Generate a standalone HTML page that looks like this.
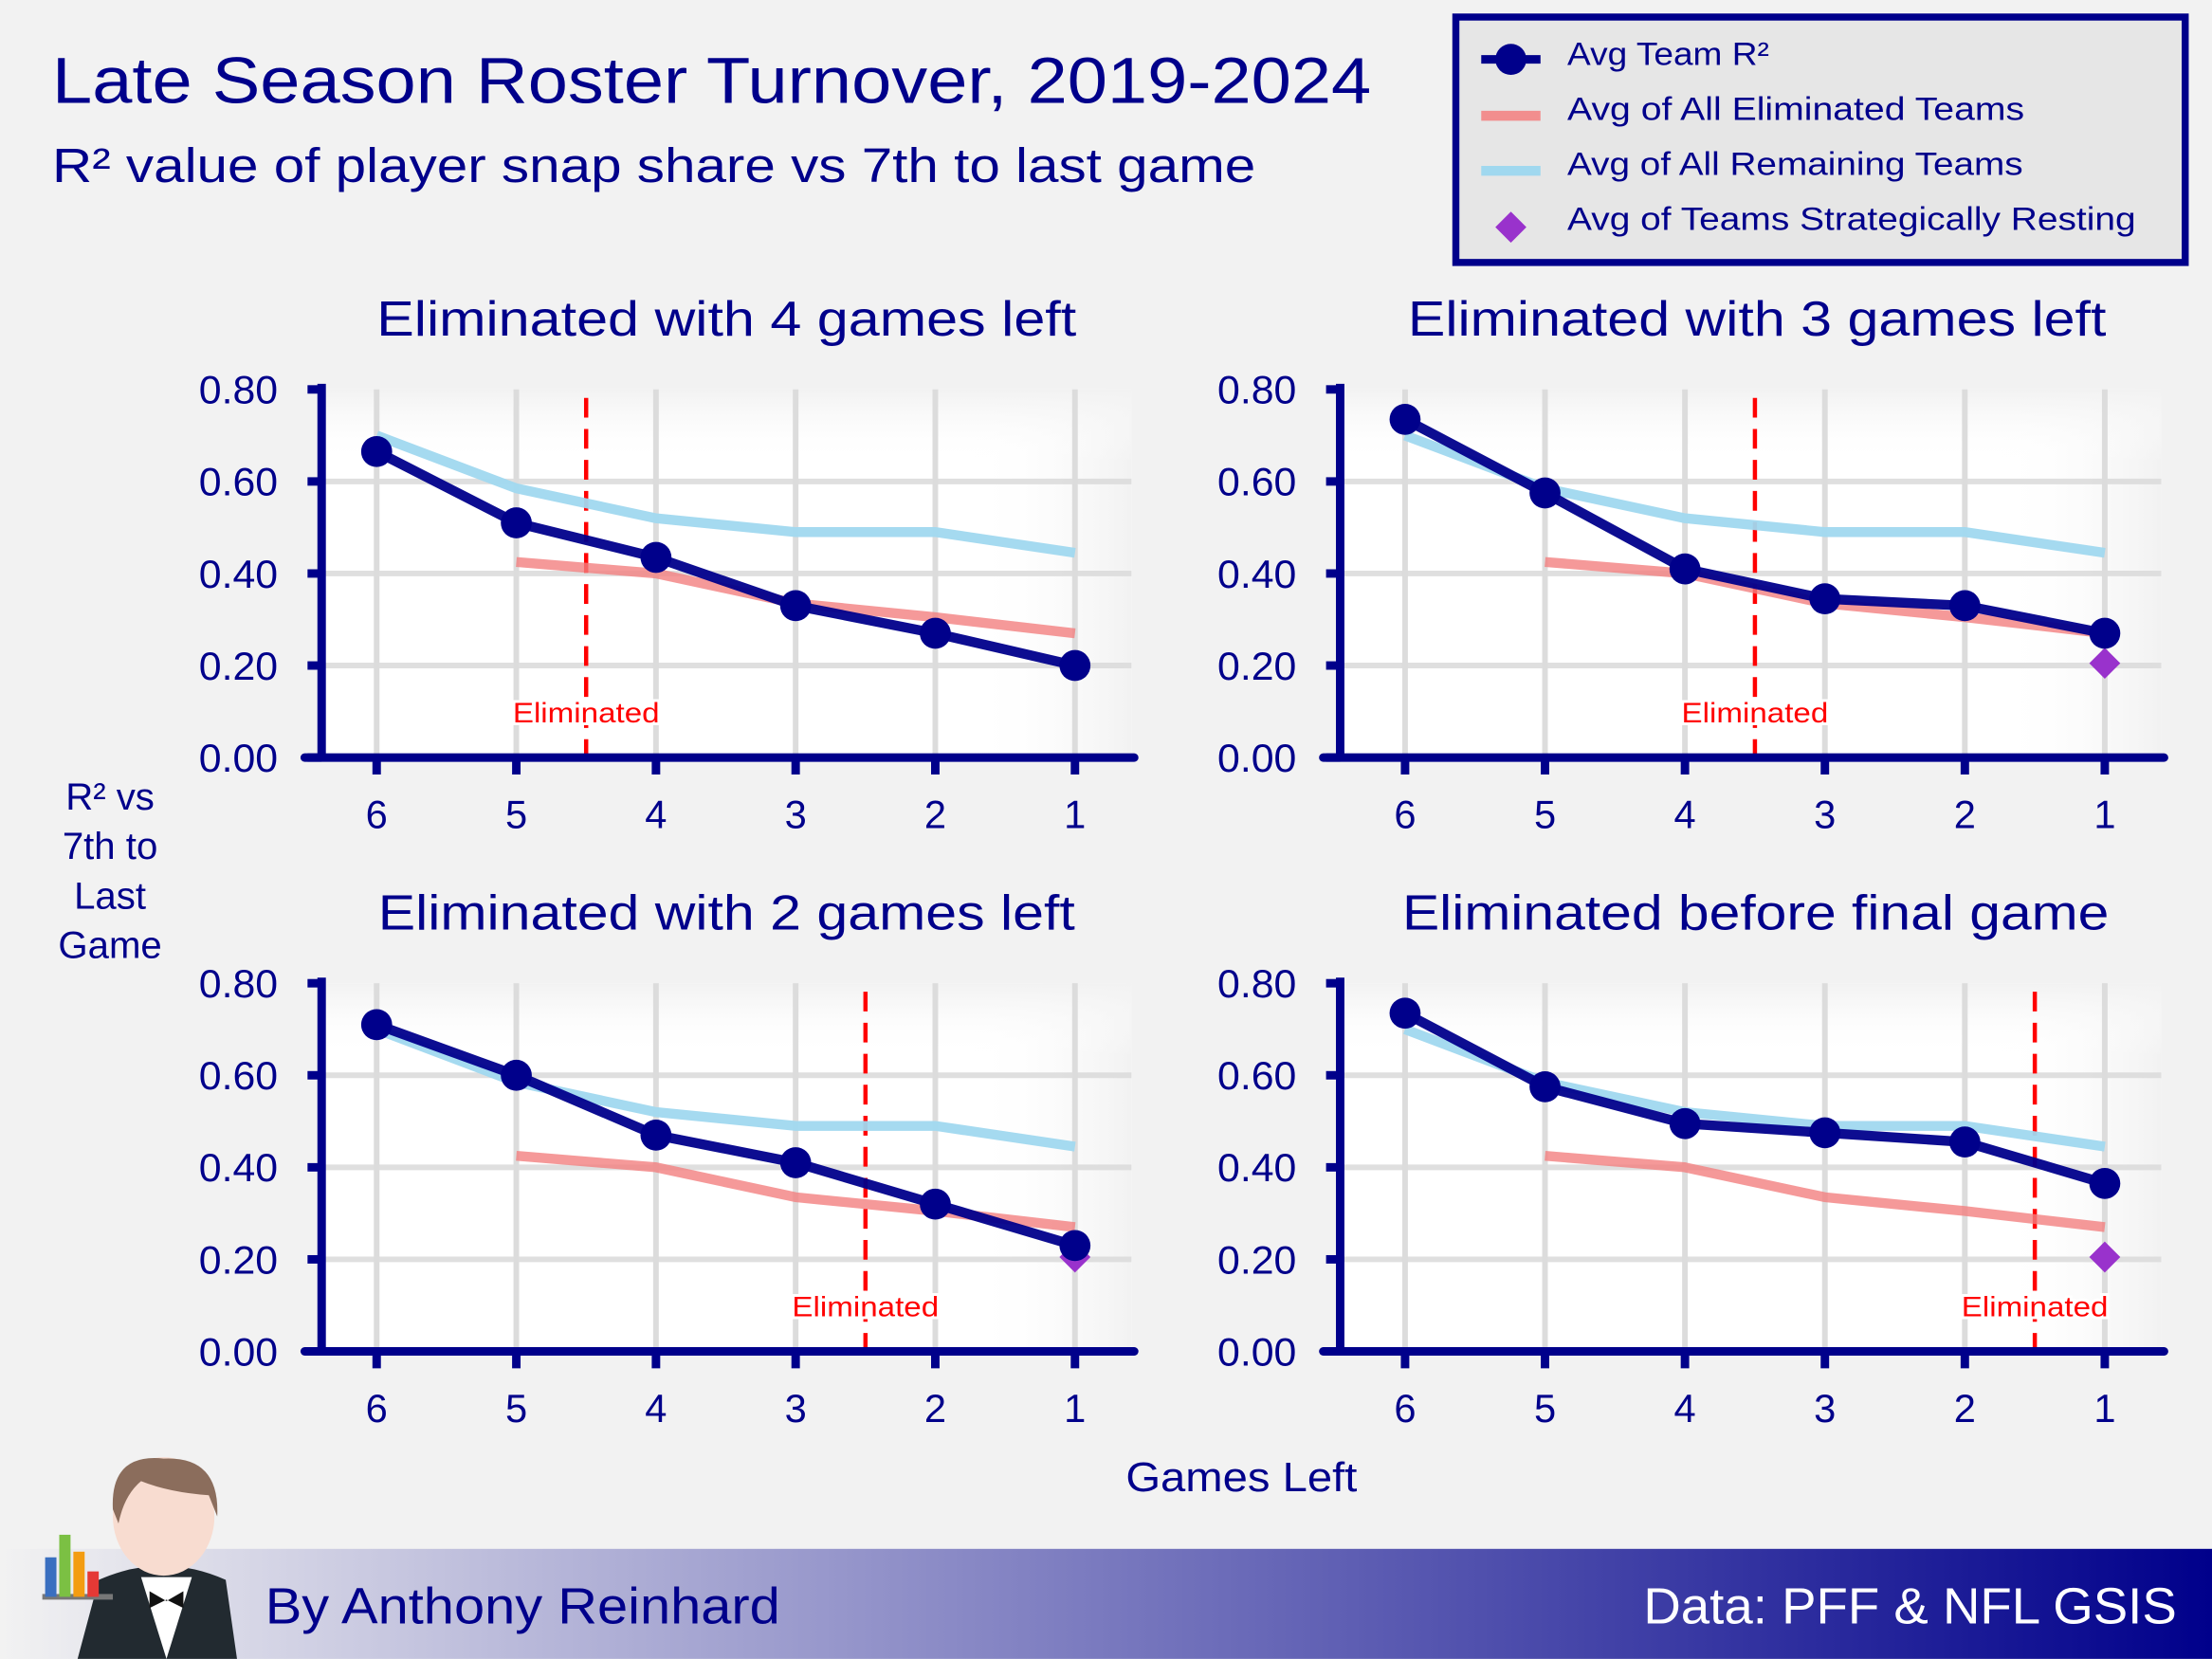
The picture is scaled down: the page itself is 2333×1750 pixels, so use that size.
<!DOCTYPE html>
<html><head><meta charset="utf-8"><style>
html,body{margin:0;padding:0;background:#f2f2f2}
svg{display:block}
text{font-family:"Liberation Sans",sans-serif}
</style></head><body>
<svg id="chart" width="2333" height="1750" viewBox="0 0 1568 1176" xmlns="http://www.w3.org/2000/svg">
<defs>
<linearGradient id="footg" x1="0" x2="1" y1="0" y2="0"><stop offset="0" stop-color="#f2f2f2"/><stop offset="1" stop-color="#00008b"/></linearGradient>
<linearGradient id="bgx" x1="0" x2="1"><stop offset="0.8" stop-color="#fff" stop-opacity="0"/><stop offset="1" stop-color="#f2f2f2"/></linearGradient>
<linearGradient id="bgy" x1="0" x2="0" y1="0" y2="1"><stop offset="0" stop-color="#f2f2f2"/><stop offset="0.2" stop-color="#fff" stop-opacity="0"/></linearGradient>
</defs>
<rect width="1568" height="1176" fill="#f2f2f2"/>
<text x="37" y="73" font-size="46" fill="#00008b" textLength="935" lengthAdjust="spacingAndGlyphs">Late Season Roster Turnover, 2019-2024</text>
<text x="37" y="129" font-size="34" fill="#00008b" textLength="853" lengthAdjust="spacingAndGlyphs">R² value of player snap share vs 7th to last game</text>
<g>
<rect x="1032" y="12" width="517" height="174" fill="#e6e6e6" stroke="#00008b" stroke-width="5"/>
<line x1="1050" y1="42" x2="1092" y2="42" stroke="#00008b" stroke-width="6"/><circle cx="1071" cy="42" r="11" fill="#00008b"/>
<text x="1111" y="46" font-size="23" fill="#00008b" textLength="143" lengthAdjust="spacingAndGlyphs">Avg Team R²</text>
<line x1="1050" y1="82" x2="1092" y2="82" stroke="#f28e8e" stroke-width="7"/>
<text x="1111" y="85" font-size="23" fill="#00008b" textLength="324" lengthAdjust="spacingAndGlyphs">Avg of All Eliminated Teams</text>
<line x1="1050" y1="121" x2="1092" y2="121" stroke="#a0d8ef" stroke-width="7"/>
<text x="1111" y="124" font-size="23" fill="#00008b" textLength="323" lengthAdjust="spacingAndGlyphs">Avg of All Remaining Teams</text>
<path d="M1071 150 L1082 161 L1071 172 L1060 161 Z" fill="#9932cc"/>
<text x="1111" y="163" font-size="23" fill="#00008b" textLength="403" lengthAdjust="spacingAndGlyphs">Avg of Teams Strategically Resting</text>
</g>
<text font-size="27" fill="#00008b" text-anchor="middle"><tspan x="78" y="574">R² vs</tspan><tspan x="78" y="609">7th to</tspan><tspan x="78" y="644">Last</tspan><tspan x="78" y="679">Game</tspan></text>
<text x="798" y="1057" font-size="29" fill="#00008b" textLength="164" lengthAdjust="spacingAndGlyphs">Games Left</text>
<g id="panels"></g>
<g>
<rect x="0" y="1098" width="1568" height="78" fill="url(#footg)"/>
<text x="188" y="1151" font-size="36" fill="#00008b" textLength="365" lengthAdjust="spacingAndGlyphs">By Anthony Reinhard</text>
<text x="1165" y="1151" font-size="36" fill="#fff" textLength="378" lengthAdjust="spacingAndGlyphs">Data: PFF &amp; NFL GSIS</text>
</g>
<g>
<path d="M55 1176 L70 1120 Q115 1100 160 1120 L168 1176 Z" fill="#222a30"/>
<path d="M100 1118 L118 1176 L136 1118 Z" fill="#fff"/>
<path d="M106 1128 L118 1135 L130 1128 L130 1140 L118 1134 L106 1140 Z" fill="#111"/>
<ellipse cx="116" cy="1075" rx="36" ry="42" fill="#f8dcd0"/>
<path d="M80 1070 Q78 1030 116 1034 Q156 1032 154 1075 L148 1060 Q120 1058 100 1050 Q88 1060 84 1080 Z" fill="#8b6d5c"/>
<rect x="30" y="1130" width="50" height="4" fill="#777"/>
<rect x="32" y="1104" width="8" height="28" fill="#3a6fc0"/><rect x="42" y="1088" width="8" height="44" fill="#7bc043"/><rect x="52" y="1100" width="8" height="32" fill="#f39c12"/><rect x="62" y="1114" width="8" height="18" fill="#e53935"/>
</g>
</svg>
<script>
const gamesLeft = [6,5,4,3,2,1];
const yTicks = [0,0.2,0.4,0.6,0.8];
const yTickLabels = ["0.00","0.20","0.40","0.60","0.80"];
const remainingAvg = [0.70,0.585,0.52,0.49,0.49,0.445];
const eliminatedAvg = [null,0.425,0.40,0.335,0.305,0.27];
const panelTitles = ["Eliminated with 4 games left","Eliminated with 3 games left","Eliminated with 2 games left","Eliminated before final game"];
const teamP1 = [0.665,0.51,0.435,0.33,0.27,0.20];
const teamP2 = [0.735,0.575,0.41,0.345,0.33,0.27];
const teamP3 = [0.71,0.60,0.47,0.41,0.32,0.23];
const teamP4 = [0.735,0.575,0.495,0.475,0.455,0.365];
const restingVals = [null,0.205,0.205,0.205];
const elimAt = [4.5,3.5,2.5,1.5];
const teamSeries = [teamP1,teamP2,teamP3,teamP4];

const NS="http://www.w3.org/2000/svg";
const root=document.getElementById('panels');
function mk(tag,attrs,parent){const e=document.createElementNS(NS,tag);for(const k in attrs)e.setAttribute(k,attrs[k]);parent.appendChild(e);return e;}
const layout=[{ax:228,x6:267,x1:762,top:276,bot:537,tx:267,tw:496},{ax:950,x6:996,x1:1492,top:276,bot:537,tx:998,tw:495},{ax:228,x6:267,x1:762,top:697,bot:958,tx:268,tw:494},{ax:950,x6:996,x1:1492,top:697,bot:958,tx:994,tw:501}];
layout.forEach((L,p)=>{
  const g=mk('g',{},root);
  
  
  const xs=v=>L.x6+(6-v)*(L.x1-L.x6)/5;
  const ys=v=>L.bot-v/0.8*(L.bot-L.top);
  const right=L.x1+40;
  mk('rect',{x:L.ax,y:L.top,width:right-L.ax,height:L.bot-L.top,fill:'#fff'},g);
  mk('rect',{x:L.ax,y:L.top,width:right-L.ax,height:L.bot-L.top,fill:'url(#bgx)'},g);
  mk('rect',{x:L.ax,y:L.top,width:right-L.ax,height:L.bot-L.top,fill:'url(#bgy)'},g);
  yTicks.forEach((t,i)=>{
    if(t>0&&t<0.8){const gl=mk('line',{x1:L.ax,x2:right,y1:ys(t),y2:ys(t),stroke:'#dcdcdc','stroke-width':4,opacity:0.9},g);}
    const tl=mk('text',{x:L.ax-87,y:ys(t)+10,'font-size':28,fill:'#00008b',textLength:56,lengthAdjust:'spacingAndGlyphs'},g);tl.textContent=yTickLabels[i];
    
    mk('line',{x1:L.ax-10,x2:L.ax,y1:ys(t),y2:ys(t),stroke:'#00008b','stroke-width':6},g);
  });
  gamesLeft.forEach(gv=>{
    mk('line',{x1:xs(gv),x2:xs(gv),y1:L.top,y2:L.bot,stroke:'#dcdcdc','stroke-width':4},g);
    mk('line',{x1:xs(gv),x2:xs(gv),y1:L.bot,y2:L.bot+12,stroke:'#00008b','stroke-width':6},g);
    const xl=mk('text',{x:xs(gv),y:L.bot+50,'font-size':28,fill:'#00008b','text-anchor':'middle'},g);xl.textContent=gv;
    
  });
  const tt=mk('text',{x:L.tx,y:L.top-38,'font-size':35,fill:'#00008b',textLength:L.tw,lengthAdjust:'spacingAndGlyphs'},g);tt.textContent=panelTitles[p];
  
  const ex=xs(elimAt[p]);
  const el=mk('line',{x1:ex,x2:ex,y1:L.top+6,y2:L.bot,stroke:'#ff0000','stroke-width':3,'stroke-dasharray':'14,8'},g);
  
  const et=mk('text',{x:ex-52,y:L.bot-25,'font-size':20,fill:'#ff0000',stroke:'#fff','stroke-width':4,'paint-order':'stroke',textLength:104,lengthAdjust:'spacingAndGlyphs'},g);et.textContent='Eliminated';
  
  const pts=arr=>arr.map((v,i)=>v==null?null:xs(gamesLeft[i])+','+ys(v)).filter(s=>s).join(' ');
  const rl=mk('polyline',{points:pts(remainingAvg),fill:'none',stroke:'#a0d8ef','stroke-width':7,opacity:0.95},g);
  
  const eln=mk('polyline',{points:pts(eliminatedAvg),fill:'none',stroke:'#f28080','stroke-width':7,opacity:0.8},g);
  
  if(restingVals[p]!=null){const cx=xs(1),cy=ys(restingVals[p]);
    const d=mk('path',{d:`M${cx} ${cy-11} L${cx+11} ${cy} L${cx} ${cy+11} L${cx-11} ${cy} Z`,fill:'#9932cc'},g);
    }
  const tl2=mk('polyline',{points:pts(teamSeries[p]),fill:'none',stroke:'#00008b','stroke-width':7,opacity:0.95},g);
  
  teamSeries[p].forEach((v,i)=>{const c=mk('circle',{cx:xs(gamesLeft[i]),cy:ys(v),r:11,fill:'#00008b'},g);
    });
  mk('line',{x1:L.ax,x2:L.ax,y1:L.top-4,y2:L.bot,stroke:'#00008b','stroke-width':6},g);
  mk('line',{x1:L.ax-12,x2:right+2,y1:L.bot,y2:L.bot,stroke:'#00008b','stroke-width':6,'stroke-linecap':'round'},g);
});
</script>
</body></html>
